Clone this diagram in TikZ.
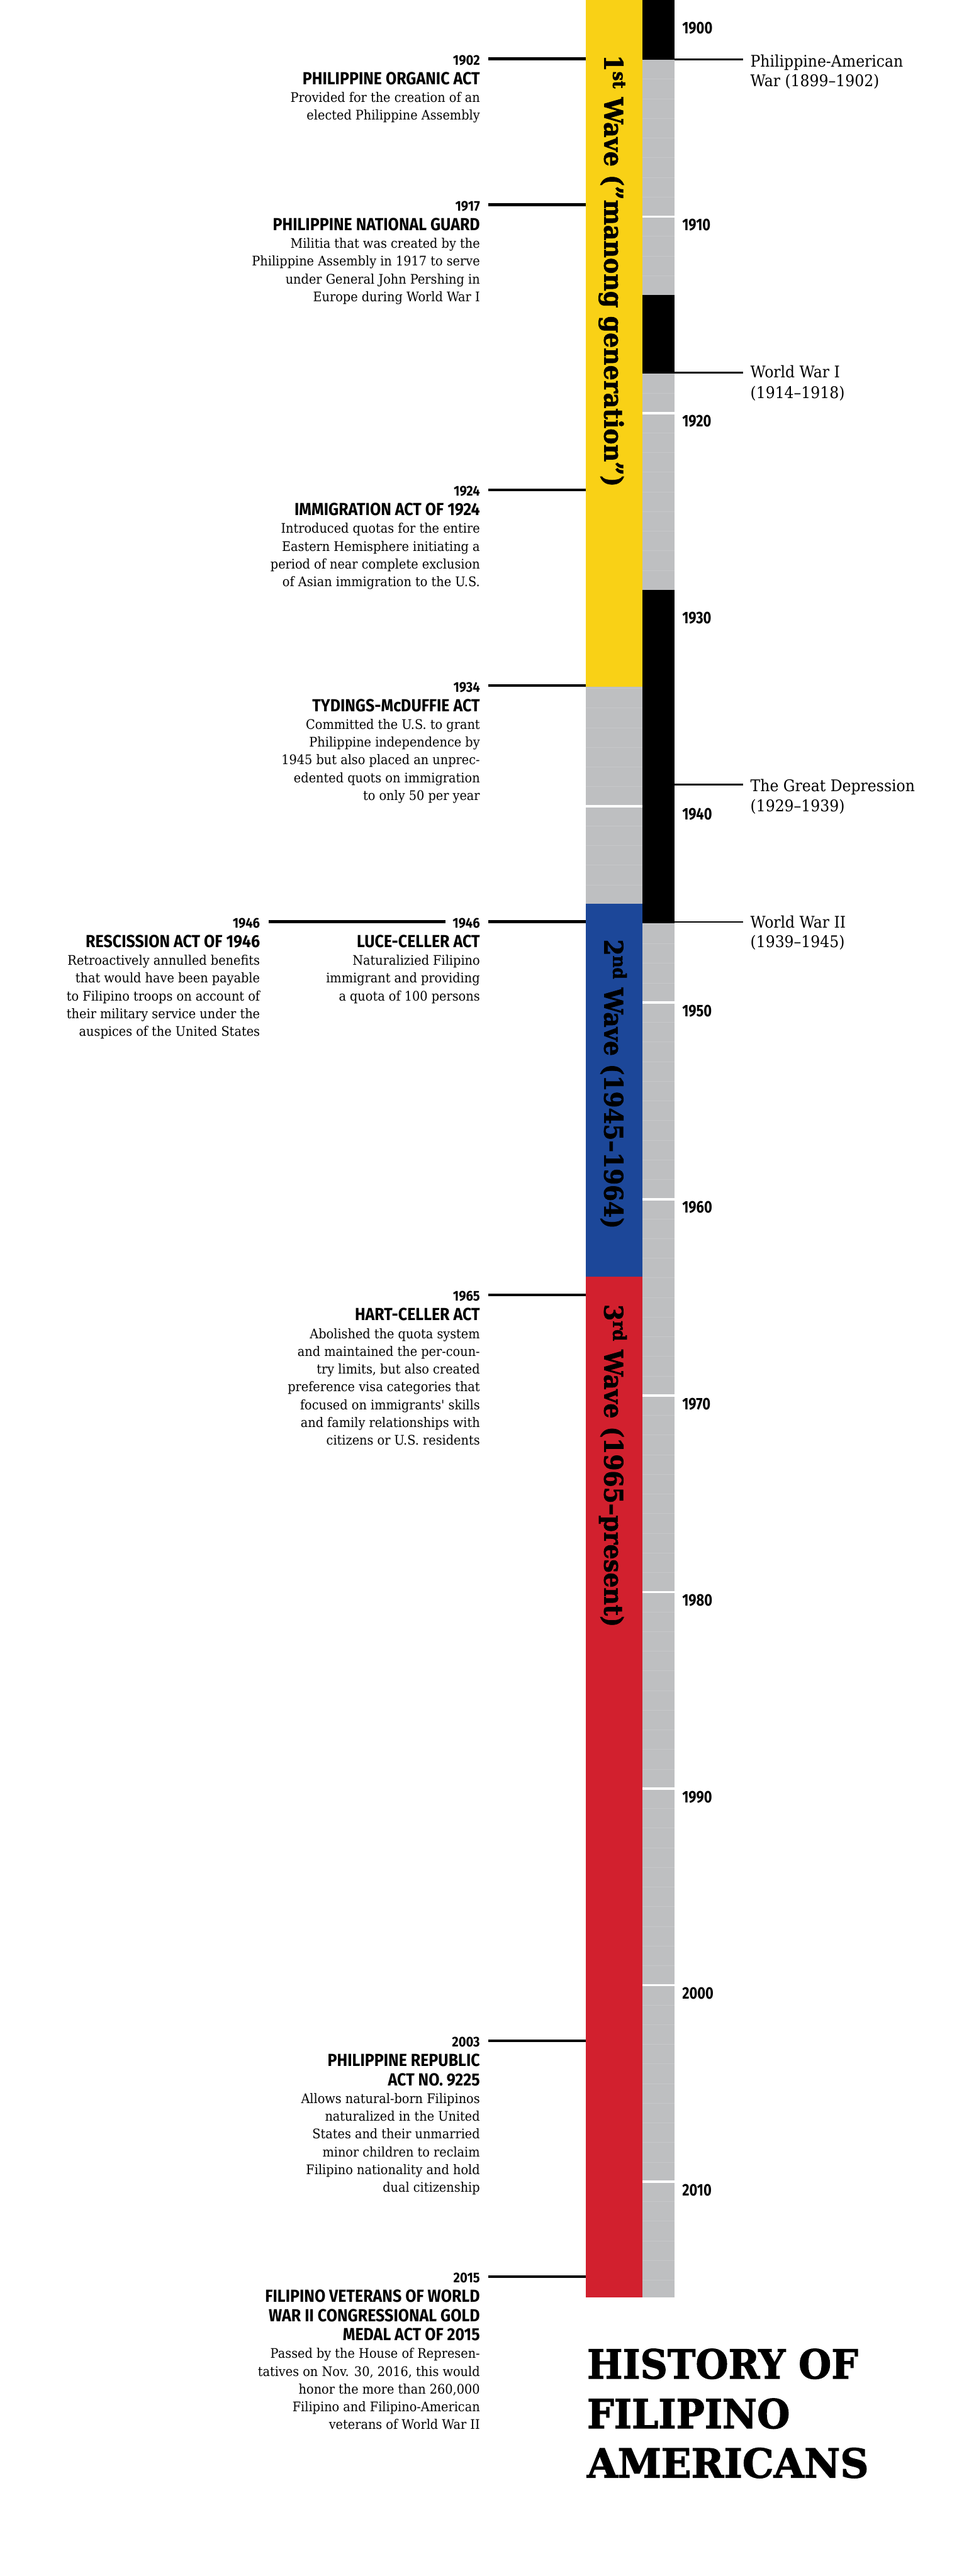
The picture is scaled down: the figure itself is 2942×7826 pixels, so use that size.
\documentclass[tikz,border=0pt]{standalone}
\usepackage{fontspec}
\usepackage{graphicx}
\newfontfamily\sansc{Fira Sans}[FakeStretch=0.9]
\newfontfamily\sansd{Fira Sans}[FakeStretch=0.82]
\newfontfamily\serifb{DejaVu Serif}[FakeStretch=0.92]
\newfontfamily\slab{DejaVu Serif}[BoldFeatures={FakeBold=1.8}]
\newlength\pxu \setlength\pxu{0.01cm}
\definecolor{wyellow}{RGB}{249,209,22}
\definecolor{wblue}{RGB}{28,71,153}
\definecolor{wred}{RGB}{210,32,46}
\definecolor{tgray}{RGB}{190,191,193}
\definecolor{ygray}{RGB}{198,199,201}
\tikzset{
  yr/.style={font=\sansc\bfseries\fontsize{12.2}{12}\selectfont, anchor=base east, inner sep=0pt},
  ttl/.style={font=\sansc\bfseries\fontsize{15.1}{16}\selectfont, anchor=base east, inner sep=0pt},
  bodytxt/.style={font=\serifb\fontsize{11.4}{12}\selectfont, anchor=base east, inner sep=0pt},
  rlab/.style={font=\serifb\fontsize{13.9}{14}\selectfont, anchor=base west, inner sep=0pt},
  declab/.style={font=\sansd\bfseries\fontsize{14.5}{15}\selectfont, anchor=base west, inner sep=0pt},
  wave/.style={font=\slab\bfseries\fontsize{22.2}{23}\selectfont, rotate=-90, anchor=base west, inner sep=0pt},
  htitle/.style={font=\slab\bfseries\fontsize{34.7}{35}\selectfont, anchor=base west, inner sep=0pt},
  evline/.style={line width=0.85mm, black},
  rline/.style={line width=0.55mm, black},
  yearline/.style={line width=0.1mm, ygray}
}
% #1 name, #2 x right, #3 line y, #4 year, #5 n title lines, #6 titles, #7 body lines
\newcommand\evt[7]{%
  \node[yr] (#1y) at (#2,#3+19) {#4};
  \foreach \xtitle [count=\i] in {#6} {\node[ttl] (#1t\i) at (#2,{#3+78+(\i-1)*58}) {\xtitle};}
  \foreach \xbody [count=\i] in {#7} {\node[bodytxt] (#1b\i) at (#2,{#3+78+(#5-1)*58+54+(\i-1)*54}) {\xbody};}
}
\begin{document}
\begin{tikzpicture}[x=0.01cm,y=-0.01cm]
\useasboundingbox (0,0) rectangle (2942,7826);
\fill[white] (0,0) rectangle (2942,7826);
% timeline bars
\fill[tgray] (1779,0) rectangle (2049,6980);
\foreach \yy in {1900,...,2015} {\draw[yearline] (1779,{658+(\yy-1910)*59.7}) -- (2049,{658+(\yy-1910)*59.7});}
\foreach \d in {1900,1910,...,2010} {\fill[white] (1779,{658+(\d-1910)*59.7-3.5}) rectangle (2049,{658+(\d-1910)*59.7+3.5});}
\fill[wyellow] (1779,0) rectangle (1951.5,2087);
\fill[wblue] (1779,2745) rectangle (1951.5,3879);
\fill[wred] (1779,3879) rectangle (1951.5,6980);
\fill[black] (1951.5,0) rectangle (2049,182);
\fill[black] (1951.5,897) rectangle (2049,1134);
\fill[black] (1951.5,1792) rectangle (2049,2805);
% decade labels
\foreach \d in {1900,1910,...,2010} {\node[declab] (d\d) at (2071,{658+(\d-1910)*59.7+42}) {\d};}
% wave labels
\node[wave] (w1) at (1835,166) {\resizebox{1312\pxu}{\height}{1\textsuperscript{st} Wave (”manong generation”)}};
\node[wave] (w2) at (1835,2853) {\resizebox{879\pxu}{\height}{2\textsuperscript{nd} Wave (1945–1964)}};
\node[wave] (w3) at (1835,3962) {\resizebox{980\pxu}{\height}{3\textsuperscript{rd} Wave (1965–present)}};
% left events
\evt{ea}{1458}{178.7}{1902}{1}{PHILIPPINE ORGANIC ACT}{Provided for the creation of an,elected Philippine Assembly}
\evt{eb}{1458}{621.8}{1917}{1}{PHILIPPINE NATIONAL GUARD}{Militia that was created by the,Philippine Assembly in 1917 to serve,under General John Pershing in,Europe during World War I}
\evt{ec}{1458}{1488}{1924}{1}{IMMIGRATION ACT OF 1924}{Introduced quotas for the entire,Eastern Hemisphere initiating a,period of near complete exclusion,of Asian immigration to the U.S.}
\evt{ed}{1458}{2083}{1934}{1}{TYDINGS-McDUFFIE ACT}{Committed the U.S. to grant,Philippine independence by,1945 but also placed an unprec-,edented quots on immigration,to only 50 per year}
\evt{ee}{1458}{2800}{1946}{1}{LUCE-CELLER ACT}{Naturalizied Filipino,immigrant and providing,a quota of 100 persons}
\evt{ef}{790}{2800}{1946}{1}{RESCISSION ACT OF 1946}{Retroactively annulled benefits,that would have been payable,to Filipino troops on account of,their military service under the,auspices of the United States}
\evt{eg}{1458}{3934}{1965}{1}{HART-CELLER ACT}{Abolished the quota system,and maintained the per-coun-,{try limits, but also created},preference visa categories that,focused on immigrants' skills,and family relationships with,citizens or U.S. residents}
\evt{eh}{1458}{6200}{2003}{2}{PHILIPPINE REPUBLIC,ACT NO. 9225}{Allows natural-born Filipinos,naturalized in the United,States and their unmarried,minor children to reclaim,Filipino nationality and hold,dual citizenship}
\evt{ei}{1458}{6916.4}{2015}{3}{FILIPINO VETERANS OF WORLD,WAR II CONGRESSIONAL GOLD,MEDAL ACT OF 2015}{Passed by the House of Represen-,{tatives on Nov. 30, 2016, this would},{honor the more than 260,000},Filipino and Filipino-American,veterans of World War II}
% left connectors
\foreach \n/\L in {ea/178.7,eb/621.8,ec/1488,ed/2083,ee/2800,eg/3934,eh/6200,ei/6916.4} {
  \coordinate (\n s) at (1483,\L);
  \coordinate (\n e) at (1779,\L);
  \draw[evline] (\n s) -- (\n e);
}
\coordinate (efs) at (816,2800);
\coordinate (efe) at (1352,2800);
\draw[evline] (efs) -- (efe);
% right events
\coordinate (ras) at (2049,180.3); \coordinate (rae) at (2256,180.3);
\coordinate (rbs) at (2049,1131.5); \coordinate (rbe) at (2256,1131.5);
\coordinate (rcs) at (2049,2383.5); \coordinate (rce) at (2256,2383.5);
\coordinate (rds) at (2049,2801); \coordinate (rde) at (2256,2801);
\draw[rline] (ras) -- (rae);
\draw[rline] (rbs) -- (rbe);
\draw[rline] (rcs) -- (rce);
\draw[rline] (rds) -- (rde);
\node[rlab] (ra1) at (2278,204) {Philippine-American};
\node[rlab] (ra2) at (2278,263) {War (1899–1902)};
\node[rlab] (rb1) at (2278,1148) {World War I};
\node[rlab] (rb2) at (2278,1210) {(1914–1918)};
\node[rlab] (rc1) at (2278,2405) {The Great Depression};
\node[rlab] (rc2) at (2278,2465) {(1929–1939)};
\node[rlab] (rd1) at (2278,2820) {World War II};
\node[rlab] (rd2) at (2278,2878) {(1939–1945)};
% title
\node[htitle] (h1) at (1782,7226) {\resizebox{823\pxu}{\height}{HISTORY OF}};
\node[htitle] (h2) at (1782,7377) {\resizebox{616\pxu}{\height}{FILIPINO}};
\node[htitle] (h3) at (1782,7527) {\resizebox{855\pxu}{\height}{AMERICANS}};
\end{tikzpicture}
\end{document}
